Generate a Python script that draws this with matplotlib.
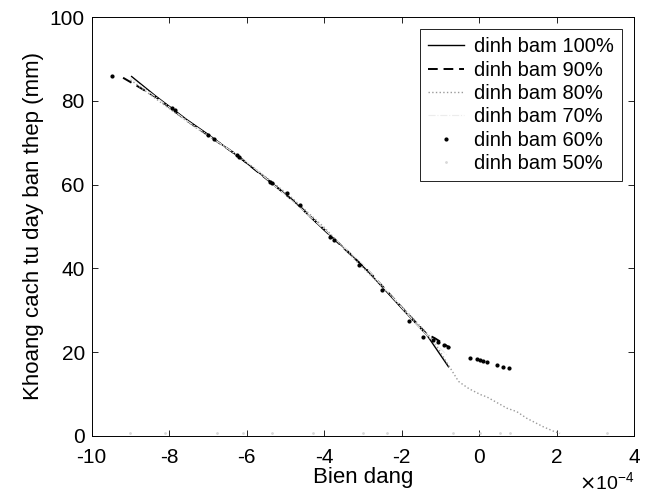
#!/usr/bin/env python3
import numpy as np
import matplotlib.pyplot as plt
from matplotlib.ticker import ScalarFormatter

# strain values read in units of 1e-4, distance from steel plate in mm
x_100 = [-8.97, -8.33, -7.56, -7.0, -6.26, -5.40, -4.71, -4.11, -3.4, -2.82, -1.96, -1.35, -0.79]
y_100 = [85.8, 81.0, 75.6, 72.0, 67.0, 60.8, 55.4, 50.1, 44.2, 38.8, 30.1, 24.1, 16.5]

x_90 = [-9.19, -8.8, -8.33, -7.56, -7.0, -6.26, -5.40, -4.71, -4.11, -2.82, -1.96, -1.35, -1.14, -0.95, -0.75]
y_90 = [85.5, 83.4, 80.8, 75.4, 71.8, 67.1, 60.7, 55.5, 50.2, 39.0, 30.3, 24.3, 23.3, 22.2, 21.0]

x_80 = [-9.0, -8.2, -7.3, -6.5, -5.7, -4.9, -4.0, -3.2, -2.5, -1.8, -1.2,
        -0.53, -0.41, -0.25, -0.1, 0.05, 0.2, 0.72, 0.97, 1.1, 1.23, 1.65, 1.8, 1.95, 2.09]
y_80 = [85.0, 79.5, 73.5, 68.6, 63.2, 57.4, 49.8, 42.0, 35.6, 29.0, 23.0,
        13.0, 12.2, 11.2, 10.5, 9.8, 9.3, 6.6, 5.8, 5.0, 4.2, 2.2, 1.6, 1.0, 0.6]

x_70 = [-9.0, -7.5, -6.0, -4.5, -3.0, -1.5, -0.8]
y_70 = [85.5, 75.0, 65.5, 53.5, 41.0, 25.5, 19.0]

x_60 = [-9.48, -7.94, -7.85, -7.0, -6.85, -6.26, -6.2, -5.40, -5.35, -4.97, -4.63, -3.85, -3.75,
        -3.1, -2.5, -1.8, -1.45, -1.2, -1.05, -0.9, -0.8,
        -0.23, -0.06, 0.03, 0.1, 0.2, 0.46, 0.63, 0.76]
y_60 = [85.9, 78.3, 77.8, 71.8, 70.8, 67.1, 66.6, 60.7, 60.3, 57.9, 55.1, 47.6, 46.8,
        40.8, 34.8, 27.4, 23.7, 23.0, 22.4, 21.6, 21.2,
        18.5, 18.3, 18.1, 17.9, 17.6, 16.9, 16.5, 16.1]

x_50 = [-9.0, -8.1, -6.77, -6.1, -5.35, -4.29, -3.0, -2.38, -0.67, 0.03, 0.54, 0.8, 3.3]
y_50 = [0.6, 0.6, 0.6, 0.6, 0.6, 0.6, 0.6, 0.6, 0.6, 0.6, 0.6, 0.6, 0.6]


class PlainSciFormatter(ScalarFormatter):
    # keep the x10^-4 offset text but plain hyphen minus in tick labels
    def __call__(self, x, pos=None):
        return f"{x / 10 ** self.orderOfMagnitude:.0f}"


plt.rcParams.update({
    "font.family": ["Liberation Sans", "DejaVu Sans"],
    "axes.unicode_minus": False,
    "font.size": 15,
})

fig = plt.figure(figsize=(6.55, 5.01), dpi=100)
ax = fig.add_axes([0.140, 0.130, 0.828, 0.836])

scale = 1e-4
ax.plot(np.array(x_100) * scale, y_100, '-', color='black', linewidth=1.0, label='dinh bam 100%')
ax.plot(np.array(x_90) * scale, y_90, '--', color='black', linewidth=1.4, dashes=(5, 3), label='dinh bam 90%')
ax.plot(np.array(x_80) * scale, y_80, ':', color='#9a9a9a', linewidth=1.0, label='dinh bam 80%')
ax.plot(np.array(x_70) * scale, y_70, '-.', color='#ececec', linewidth=0.8, label='dinh bam 70%')
ax.plot(np.array(x_60) * scale, y_60, '.', color='black', markersize=4, label='dinh bam 60%')
ax.plot(np.array(x_50) * scale, y_50, '.', color='#d8d8d8', markersize=2, label='dinh bam 50%')

ax.set_xlim(-10e-4, 4e-4)
ax.set_ylim(0, 100)
ax.set_xticks(np.arange(-10, 5, 2) * scale)
ax.set_yticks(np.arange(0, 101, 20))

fmt = PlainSciFormatter(useMathText=True)
fmt.set_powerlimits((-4, -4))
ax.xaxis.set_major_formatter(fmt)
ax.xaxis.get_offset_text().set_fontsize(14)

ax.tick_params(direction='in', top=True, right=True, length=4, width=0.6, labelsize=15, pad=5)
ax.tick_params(axis='x', pad=9)
for s in ax.spines.values():
    s.set_linewidth(0.7)

ax.set_xlabel("Bien dang", fontsize=16, labelpad=0)
ax.set_ylabel("Khoang cach tu day ban thep (mm)", fontsize=16, labelpad=4)

leg = ax.legend(loc='upper right', fontsize=14.5, frameon=True, fancybox=False,
                edgecolor='black', framealpha=1, handlelength=1.8, borderaxespad=0.6,
                labelspacing=0.22, handletextpad=0.5, borderpad=0.4)
leg.get_frame().set_linewidth(0.6)

plt.savefig("out.png", dpi=100)
